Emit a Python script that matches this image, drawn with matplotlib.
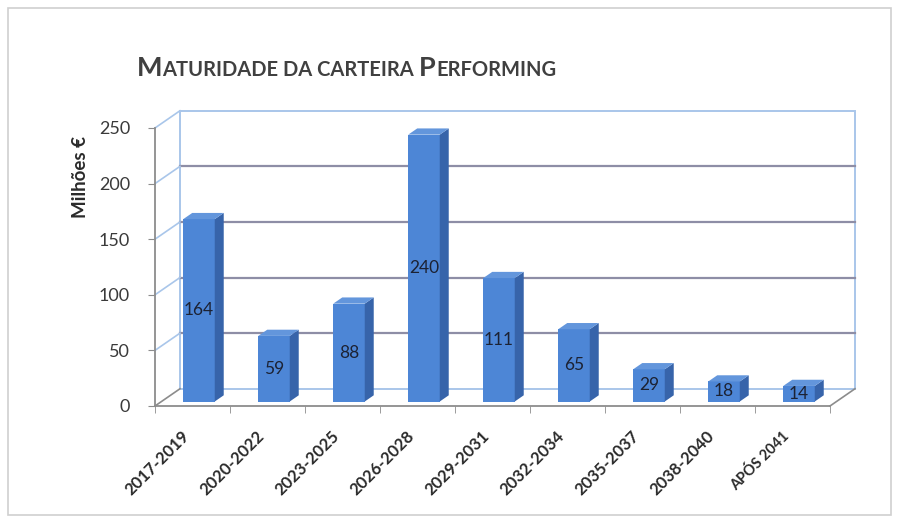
import matplotlib
matplotlib.use("Agg")
import matplotlib.pyplot as plt
from matplotlib.patches import Polygon, Rectangle
from matplotlib.transforms import ScaledTranslation

plt.rcParams["font.family"] = ["Lato", "DejaVu Sans"]

# maturity buckets and amounts (M€)
categories = ["2017-2019", "2020-2022", "2023-2025", "2026-2028", "2029-2031",
              "2032-2034", "2035-2037", "2038-2040", "APÓS 2041"]
values = [164, 59, 88, 240, 111, 65, 29, 18, 14]
y_ticks = [0, 50, 100, 150, 200, 250]

# pseudo-3D depth vector in data units (x: categories, y: M€)
DX, DY = 0.333, 15.5
F0, F1 = 0.26, 0.62          # bar front / back position inside the depth
BAR_W = 0.42

FRONT = "#4d86d6"
SIDE = "#3764aa"
TOP = "#6396dc"
WALL = "#a9c6ea"
GRID = "#8e8ea6"
AXIS = "#8c8c8c"

fig = plt.figure(figsize=(8.98, 5.23), dpi=100)
fig.patch.set_facecolor("white")
fig.patches.append(Rectangle((8 / 898, 8 / 523), 883 / 898, 507 / 523,
                             transform=fig.transFigure, fill=False,
                             edgecolor="#cfcfcf", linewidth=1.2))

ax = fig.add_axes([0.1726, 0.2131, 0.7851, 0.5847])
ax.set_xlim(-0.5, 8.9)
ax.set_ylim(-5, 270)
ax.set_facecolor("none")

n = len(categories)
x0, x1 = -0.5, n - 0.5
top = y_ticks[-1]

# back wall
ax.add_patch(Rectangle((x0 + DX, DY), n, top, facecolor="white",
                       edgecolor=WALL, linewidth=1.4, zorder=1))
for v in y_ticks[1:-1]:
    ax.plot([x0 + DX, x1 + DX], [v + DY, v + DY], color=GRID, lw=1.6, zorder=2)
# left side wall diagonals
for v in y_ticks:
    ax.plot([x0, x0 + DX], [v, v + DY], color=WALL if v else AXIS, lw=1.2,
            zorder=2, clip_on=False)
# floor
ax.plot([x1, x1 + DX], [0, DY], color=AXIS, lw=1.2, zorder=2)

# bars
for i, v in enumerate(values):
    xl = i - BAR_W / 2 + F0 * DX
    xr = xl + BAR_W
    b = F0 * DY
    ddx, ddy = (F1 - F0) * DX, (F1 - F0) * DY
    ax.bar(xl + BAR_W / 2, v, width=BAR_W, bottom=b, color=FRONT,
           linewidth=0, zorder=3)
    ax.add_patch(Polygon([(xr, b), (xr + ddx, b + ddy), (xr + ddx, b + v + ddy),
                          (xr, b + v)], closed=True, facecolor=SIDE,
                         linewidth=0, zorder=3))
    ax.add_patch(Polygon([(xl, b + v), (xr, b + v), (xr + ddx, b + v + ddy),
                          (xl + ddx, b + v + ddy)], closed=True, facecolor=TOP,
                         linewidth=0, zorder=3))
    ax.text(xl + BAR_W / 2, b + v / 2, str(v), ha="center", va="center",
            fontsize=12.5, color="#1c2233", zorder=5)

# axes: left spine is the front vertical axis, bottom spine the front floor edge
for side in ("top", "right"):
    ax.spines[side].set_visible(False)
ax.spines["left"].set_bounds(0, top)
ax.spines["left"].set_color(AXIS)
ax.spines["left"].set_linewidth(1.3)
ax.spines["bottom"].set_position(("data", 0))
ax.spines["bottom"].set_bounds(x0, x1)
ax.spines["bottom"].set_color(AXIS)
ax.spines["bottom"].set_linewidth(1.3)

ax.set_yticks(y_ticks)
ax.tick_params(axis="y", length=5, color=AXIS, pad=13, labelsize=13,
               labelcolor="#3a3a3a")

ax.set_xticks(range(n))
ax.set_xticks([k + 0.5 for k in range(-1, n)], minor=True)
ax.set_xticklabels(categories, rotation=45, ha="right", va="center",
                   rotation_mode="anchor", fontsize=12, fontweight="bold",
                   color="#2b2b2b")
ax.tick_params(axis="x", which="major", length=0, pad=20)
ax.tick_params(axis="x", which="minor", length=5, color=AXIS)
shift = ScaledTranslation(-4 / 72, 0, fig.dpi_scale_trans)
for lab in ax.get_xticklabels():
    lab.set_transform(lab.get_transform() + shift)
ax.get_xticklabels()[-1].set_fontsize(10.5)

fig.text(80 / 898, 1 - 177 / 523, "Milhões €", rotation=90, ha="center",
         va="center", fontsize=13.5, fontweight="bold", color="#2b2b2b")

# small-caps title built from pieces placed side by side
renderer = fig.canvas.get_renderer()
x = 137 / 898
y = 1 - 76 / 523
for s, size in [("M", 19.5), ("ATURIDADE DA CARTEIRA ", 14.5), ("P", 19.5),
                ("ERFORMING", 14.5)]:
    t = fig.text(x, y, s, fontsize=size, fontweight="bold", color="#404040",
                 ha="left", va="baseline")
    ext = t.get_window_extent(renderer)
    x = ext.x1 / fig.bbox.width

fig.savefig("out.png", dpi=100)
